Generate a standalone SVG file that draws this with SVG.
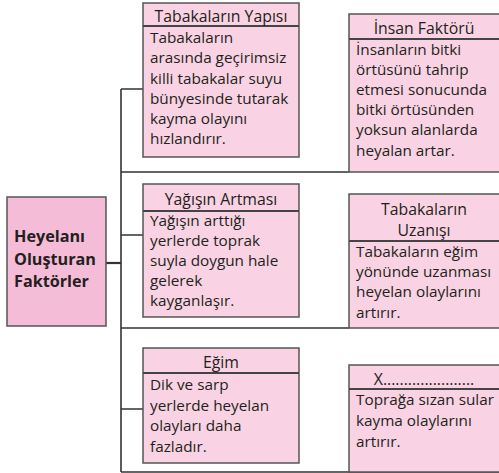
<svg xmlns="http://www.w3.org/2000/svg" width="499" height="473" viewBox="0 0 499 473">
<style>
.box{fill:#f9d3e3;stroke:#555;stroke-width:1.5}
.main{fill:#f5bcd7;stroke:#555;stroke-width:1.5}
.sep{stroke:#444;stroke-width:1.8}
.con{stroke:#333;stroke-width:1.6;fill:none}
text{font-family:"Open Sans","Noto Sans",sans-serif;font-size:15.3px;fill:#231f20}
.t{text-anchor:middle;font-size:15.8px}
.b{font-weight:bold;font-size:16.2px}
</style>
<rect width="499" height="473" fill="#fff"/>
<g id="connectors">
<path class="con" d="M121 89V472M121 89H143M121 172H349M121 235H143M121 328H349M121 409H143M121 472H499"/>
<path class="con" style="stroke-width:2.2" d="M106 263H121"/>
</g>
<g id="main">
<rect class="main" x="7" y="197" width="99" height="129"/>
<text class="b" x="14" y="242">Heyelanı</text>
<text class="b" x="14" y="265">Oluşturan</text>
<text class="b" x="14" y="287">Faktörler</text>
</g>
<g id="yapisi">
<rect class="box" x="143" y="3" width="156" height="154"/>
<line class="sep" x1="143" y1="26" x2="299" y2="26"/>
<text class="t" x="221" y="22">Tabakaların Yapısı</text>
<text x="150" y="43">Tabakaların</text>
<text x="150" y="63">arasında geçirimsiz</text>
<text x="150" y="84">killi tabakalar suyu</text>
<text x="150" y="104">bünyesinde tutarak</text>
<text x="150" y="124">kayma olayını</text>
<text x="150" y="144">hızlandırır.</text>
</g>
<g id="insan">
<rect class="box" x="349" y="14" width="152" height="158"/>
<line class="sep" x1="349" y1="39" x2="499" y2="39"/>
<text class="t" x="424" y="34">İnsan Faktörü</text>
<text x="356" y="55">İnsanların bitki</text>
<text x="356" y="75">örtüsünü tahrip</text>
<text x="356" y="95">etmesi sonucunda</text>
<text x="356" y="115">bitki örtüsünden</text>
<text x="356" y="135">yoksun alanlarda</text>
<text x="356" y="156">heyalan artar.</text>
</g>
<g id="yagis">
<rect class="box" x="143" y="184" width="156" height="133"/>
<line class="sep" x1="143" y1="211" x2="299" y2="211"/>
<text class="t" x="221" y="205">Yağışın Artması</text>
<text x="150" y="226">Yağışın arttığı</text>
<text x="150" y="246">yerlerde toprak</text>
<text x="150" y="266">suyla doygun hale</text>
<text x="150" y="286">gelerek</text>
<text x="150" y="306">kayganlaşır.</text>
</g>
<g id="uzanis">
<rect class="box" x="349" y="194" width="152" height="134"/>
<line class="sep" x1="349" y1="241" x2="499" y2="241"/>
<text class="t" x="424" y="215">Tabakaların</text>
<text class="t" x="424" y="236">Uzanışı</text>
<text x="356" y="257">Tabakaların eğim</text>
<text x="356" y="277">yönünde uzanması</text>
<text x="356" y="297">heyelan olaylarını</text>
<text x="356" y="318">artırır.</text>
</g>
<g id="egim">
<rect class="box" x="143" y="348" width="156" height="115"/>
<line class="sep" x1="143" y1="373" x2="299" y2="373"/>
<text class="t" x="221" y="368">Eğim</text>
<text x="150" y="390">Dik ve sarp</text>
<text x="150" y="411">yerlerde heyelan</text>
<text x="150" y="431">olayları daha</text>
<text x="150" y="452">fazladır.</text>
</g>
<g id="x">
<rect class="box" x="349" y="365" width="152" height="107"/>
<line class="sep" x1="349" y1="389" x2="499" y2="389"/>
<text class="t" x="424" y="385">X......................</text>
<text x="356" y="405">Toprağa sızan sular</text>
<text x="356" y="426">kayma olaylarını</text>
<text x="356" y="447">artırır.</text>
</g>
</svg>
